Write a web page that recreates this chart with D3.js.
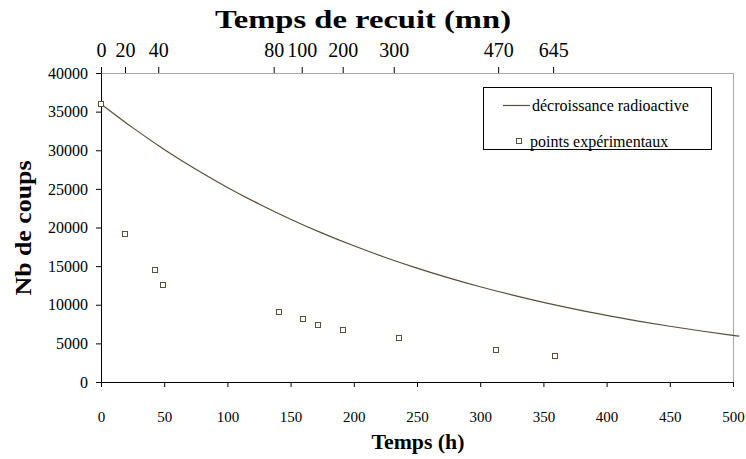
<!DOCTYPE html>
<html>
<head>
<meta charset="utf-8">
<script src="https://cdn.jsdelivr.net/npm/d3@7"></script>
<style>
  body { margin: 0; background: #fff; }
</style>
</head>
<body>
<div id="chart"></div>
<script>
// decay curve (hours -> counts)
const curveHours = [0, 25, 50, 75, 100, 125, 150, 175, 200, 225, 250, 275, 300, 325, 350, 375, 400, 425, 450, 475, 500, 505];
const curveCounts = [36000, 32930, 30110, 27540, 25190, 23040, 21070, 19270, 17630, 16120, 14740, 13480, 12330, 11280, 10310, 9430, 8630, 7890, 7220, 6600, 6040, 5930];

// experimental points
const pointHours = [0, 19, 42.4, 49.3, 140.6, 159.8, 171.7, 191.5, 235.5, 312.6, 359];
const pointCounts = [36000, 19170, 14500, 12500, 9000, 8190, 7340, 6780, 5640, 4090, 3400];

// top axis: annealing time (mn) placed at the matching hour
const topTickLabels = ["0", "20", "40", "80", "100", "200", "300", "470", "645"];
const topTickHours = [0, 19, 45.3, 136.6, 158.8, 191.2, 231.6, 314.2, 357.7];

const xTicks = [0, 50, 100, 150, 200, 250, 300, 350, 400, 450, 500];
const yTicks = [0, 5000, 10000, 15000, 20000, 25000, 30000, 35000, 40000];

const legendLabels = ["décroissance radioactive", "points expérimentaux"];

const width = 746, height = 459;
const lineColor = "#5a4e3c";
const serif = "'Times New Roman', 'Liberation Serif', 'DejaVu Serif', serif";

const svg = d3.select("#chart").append("svg")
    .attr("width", width)
    .attr("height", height)
    .style("display", "block");

const x = d3.scaleLinear().domain([0, 500]).range([101, 733]);
const y = d3.scaleLinear().domain([0, 40000]).range([382, 73]);

// plot area border (grey top and right)
svg.append("path")
    .attr("d", `M${x(0) + 0.5},${y(40000) + 0.5}H${x(500) + 0.5}V${y(0) + 0.5}`)
    .attr("fill", "none")
    .attr("stroke", "#a6a6a6")
    .attr("stroke-width", 1);

// bottom axis
const xAxis = svg.append("g")
    .attr("transform", `translate(0,${y(0)})`)
    .call(d3.axisBottom(x).tickValues(xTicks).tickSize(5).tickPadding(24).tickFormat(d3.format("d")));

// left axis
const yAxis = svg.append("g")
    .attr("transform", `translate(${x(0)},0)`)
    .call(d3.axisLeft(y).tickValues(yTicks).tickSize(5).tickPadding(8).tickFormat(d3.format("d")));

// top axis
const topAxis = svg.append("g")
    .attr("transform", `translate(0,${y(40000)})`)
    .call(d3.axisTop(x).tickValues(topTickHours).tickSize(6).tickPadding(10)
        .tickFormat((d, i) => topTickLabels[i]));
topAxis.select(".domain").remove();

[xAxis, yAxis, topAxis].forEach(g => g.attr("font-family", null).attr("font-size", null));
xAxis.selectAll("text").style("font-size", "15px");
yAxis.selectAll("text").style("font-size", "16px");
topAxis.selectAll("text").style("font-size", "20px");
svg.selectAll(".tick text").attr("fill", "#000");
svg.selectAll(".domain, .tick line").attr("stroke", "#000");

// decay curve
const line = d3.line()
    .x((d, i) => x(curveHours[i]))
    .y(d => y(d))
    .curve(d3.curveMonotoneX);

svg.append("path")
    .datum(curveCounts)
    .attr("d", line)
    .attr("fill", "none")
    .attr("stroke", lineColor)
    .attr("stroke-width", 1.2);

// experimental points
svg.selectAll(".pt")
    .data(pointCounts)
    .join("rect")
    .attr("class", "pt")
    .attr("x", (d, i) => Math.round(x(pointHours[i])) - 2.5)
    .attr("y", d => Math.round(y(d)) - 2.5)
    .attr("width", 5)
    .attr("height", 5)
    .attr("fill", "#fff")
    .attr("stroke", lineColor)
    .attr("stroke-width", 1);

// titles
svg.append("text")
    .attr("x", 363)
    .attr("y", 28)
    .attr("text-anchor", "middle")
    .attr("textLength", 296)
    .attr("lengthAdjust", "spacingAndGlyphs")
    .style("font-size", "25px")
    .style("font-weight", "bold")
    .text("Temps de recuit (mn)");

svg.append("text")
    .attr("x", 418)
    .attr("y", 449)
    .attr("text-anchor", "middle")
    .attr("textLength", 93)
    .attr("lengthAdjust", "spacingAndGlyphs")
    .style("font-size", "21px")
    .style("font-weight", "bold")
    .text("Temps (h)");

svg.append("text")
    .attr("transform", "translate(31,228) rotate(-90)")
    .attr("text-anchor", "middle")
    .attr("textLength", 135)
    .attr("lengthAdjust", "spacingAndGlyphs")
    .style("font-size", "24px")
    .style("font-weight", "bold")
    .text("Nb de coups");

// legend
const legend = svg.append("g").attr("transform", "translate(483,87)");
legend.append("rect")
    .attr("x", 0.5).attr("y", 0.5)
    .attr("width", 228).attr("height", 62)
    .attr("fill", "#fff")
    .attr("stroke", "#000");

legend.append("line")
    .attr("x1", 20).attr("x2", 47)
    .attr("y1", 18.5).attr("y2", 18.5)
    .attr("stroke", lineColor)
    .attr("stroke-width", 1.2);

legend.append("rect")
    .attr("x", 33.5).attr("y", 51.5)
    .attr("width", 5).attr("height", 5)
    .attr("fill", "#fff")
    .attr("stroke", lineColor);

legend.selectAll(".leg")
    .data(legendLabels)
    .join("text")
    .attr("class", "leg")
    .attr("x", (d, i) => i === 0 ? 49 : 47)
    .attr("y", (d, i) => i === 0 ? 24 : 60)
    .style("font-size", "16px")
    .text(d => d);

svg.selectAll("text").style("font-family", serif);
</script>
</body>
</html>
